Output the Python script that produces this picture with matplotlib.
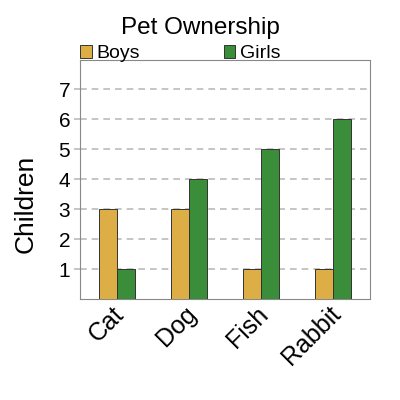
import numpy as np
import matplotlib.pyplot as plt

plt.rcParams["font.family"] = ["Liberation Sans", "DejaVu Sans"]

pets = ["Cat", "Dog", "Fish", "Rabbit"]
boys = [3, 3, 1, 1]
girls = [1, 4, 5, 6]

fig = plt.figure(figsize=(4, 4), dpi=100)
ax = fig.add_axes([0.2, 0.2525, 0.725, 0.5975])

x = np.arange(len(pets))
w = 0.25
ax.bar(x - w/2, boys, w, color="#dcae45", edgecolor="#333333", linewidth=0.7, label="Boys", zorder=3)
ax.bar(x + w/2, girls, w, color="#3a8e3a", edgecolor="#333333", linewidth=0.7, label="Girls", zorder=3)

ax.set_xlim(-0.51, 3.51)
ax.set_ylim(0, 7.97)
ax.set_yticks(range(1, 8))
# labels sit a little left of the group centre (no tick marks shown)
ax.set_xticks(x - 0.07)
ax.set_xticklabels(pets, rotation=45, ha="right", rotation_mode="anchor", fontsize=18)
ax.tick_params(axis="y", labelsize=15, length=4, width=1.2, color="#bbbbbb", pad=3)
ax.tick_params(axis="x", length=0, pad=2)
ax.yaxis.grid(True, linestyle=(0, (4, 3)), color="#bbbbbb", linewidth=1.2, zorder=0)
for s in ax.spines.values():
    s.set_color("#888888")
ax.set_ylabel("Children", fontsize=19)
ax.yaxis.set_label_coords(-0.145, 0.40)

fig.suptitle("Pet Ownership", fontsize=17.5, y=0.958)
ax.legend(loc="lower left", bbox_to_anchor=(0.0, 0.99), ncol=2, frameon=False,
          fontsize=14, handlelength=0.6, handleheight=0.6, handletextpad=0.25,
          columnspacing=4.3, borderaxespad=0, borderpad=0)

fig.savefig("out.png")
